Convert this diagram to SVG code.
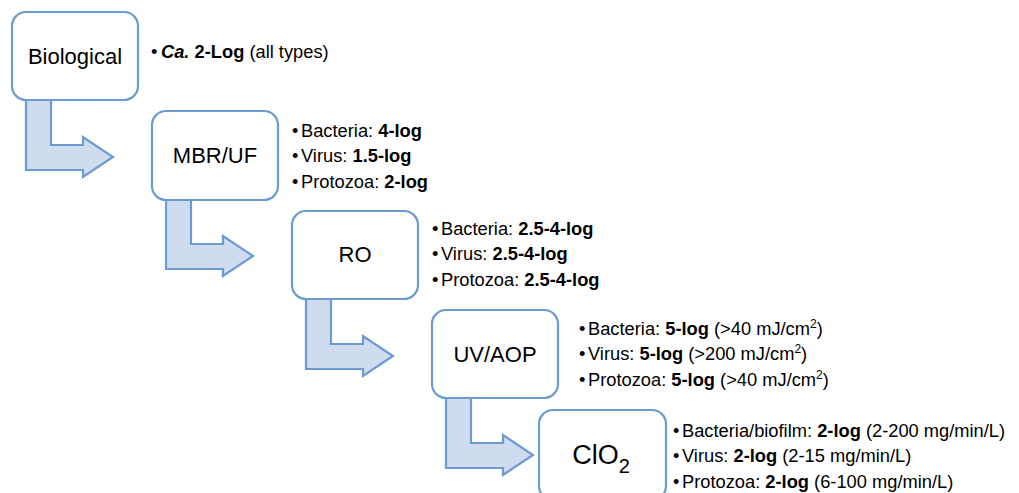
<svg xmlns="http://www.w3.org/2000/svg" width="1019" height="493" viewBox="0 0 1019 493">
  <style>
    .box { fill: #ffffff; stroke: #6c9bd0; stroke-width: 2.2; }
    .arrow { fill: #cfdbee; stroke: #6c9bd0; stroke-width: 2.2; stroke-linejoin: miter; }
    .label { font-family: "Liberation Sans", Arial, sans-serif; font-size: 22px; fill: #000; text-anchor: middle; }
    .big { font-size: 27px; }
    .sub { font-size: 20px; }
    .note { font-family: "Liberation Sans", Arial, sans-serif; font-size: 18.3px; fill: #000; }
    .sup { font-size: 12px; }
    .b { font-weight: bold; }
  </style>
  <defs>
    <!-- bent block arrow, origin at the top-left corner of its source box -->
    <path id="bend" class="arrow" d="M14,88 L39,88 L39,133 L71,133 L71,125 L101,145 L71,165 L71,158 L14,158 Z"/>
  </defs>

  <!-- connectors -->
  <g id="connectors">
    <use href="#bend" x="12" y="12"/>
    <use href="#bend" x="152" y="111"/>
    <use href="#bend" x="292" y="211"/>
    <use href="#bend" x="432" y="310"/>
  </g>

  <g id="node-biological">
    <rect class="box" x="12" y="12" width="126" height="88" rx="14"/>
    <text class="label" x="75" y="64">Biological</text>
    <text class="note" x="151" y="58">•</text>
    <text class="note" x="161" y="58"><tspan class="b" font-style="italic">Ca.</tspan> <tspan class="b">2-Log</tspan> (all types)</text>
  </g>

  <g id="node-mbr-uf">
    <rect class="box" x="152" y="111" width="126" height="89" rx="14"/>
    <text class="label" x="215" y="163">MBR/UF</text>
    <text class="note" x="292" y="137">•</text>
    <text class="note" x="301" y="137">Bacteria: <tspan class="b">4-log</tspan></text>
    <text class="note" x="292" y="162">•</text>
    <text class="note" x="301" y="162">Virus: <tspan class="b">1.5-log</tspan></text>
    <text class="note" x="292" y="188">•</text>
    <text class="note" x="301" y="188">Protozoa: <tspan class="b">2-log</tspan></text>
  </g>

  <g id="node-ro">
    <rect class="box" x="292" y="211" width="126" height="88" rx="14"/>
    <text class="label" x="355" y="262">RO</text>
    <text class="note" x="432" y="235">•</text>
    <text class="note" x="441" y="235">Bacteria: <tspan class="b">2.5-4-log</tspan></text>
    <text class="note" x="432" y="260">•</text>
    <text class="note" x="441" y="260">Virus: <tspan class="b">2.5-4-log</tspan></text>
    <text class="note" x="432" y="286">•</text>
    <text class="note" x="441" y="286">Protozoa: <tspan class="b">2.5-4-log</tspan></text>
  </g>

  <g id="node-uv-aop">
    <rect class="box" x="432" y="310" width="126" height="88" rx="14"/>
    <text class="label" x="495" y="362">UV/AOP</text>
    <text class="note" x="579" y="335">•</text>
    <text class="note" x="588" y="335">Bacteria: <tspan class="b">5-log</tspan> (&gt;40 mJ/cm<tspan class="sup" dy="-7">2</tspan><tspan dy="7">)</tspan></text>
    <text class="note" x="579" y="360">•</text>
    <text class="note" x="588" y="360">Virus: <tspan class="b">5-log</tspan> (&gt;200 mJ/cm<tspan class="sup" dy="-7">2</tspan><tspan dy="7">)</tspan></text>
    <text class="note" x="579" y="386">•</text>
    <text class="note" x="588" y="386">Protozoa: <tspan class="b">5-log</tspan> (&gt;40 mJ/cm<tspan class="sup" dy="-7">2</tspan><tspan dy="7">)</tspan></text>
  </g>

  <g id="node-clo2">
    <rect class="box" x="539" y="410" width="127" height="90" rx="14"/>
    <text class="label big" x="601" y="464">ClO<tspan class="sub" dy="9">2</tspan></text>
    <text class="note" x="673" y="437">•</text>
    <text class="note" x="682" y="437">Bacteria/biofilm: <tspan class="b">2-log</tspan> (2-200 mg/min/L)</text>
    <text class="note" x="673" y="462">•</text>
    <text class="note" x="682" y="462">Virus: <tspan class="b">2-log</tspan> (2-15 mg/min/L)</text>
    <text class="note" x="673" y="488">•</text>
    <text class="note" x="682" y="488">Protozoa: <tspan class="b">2-log</tspan> (6-100 mg/min/L)</text>
  </g>
</svg>
